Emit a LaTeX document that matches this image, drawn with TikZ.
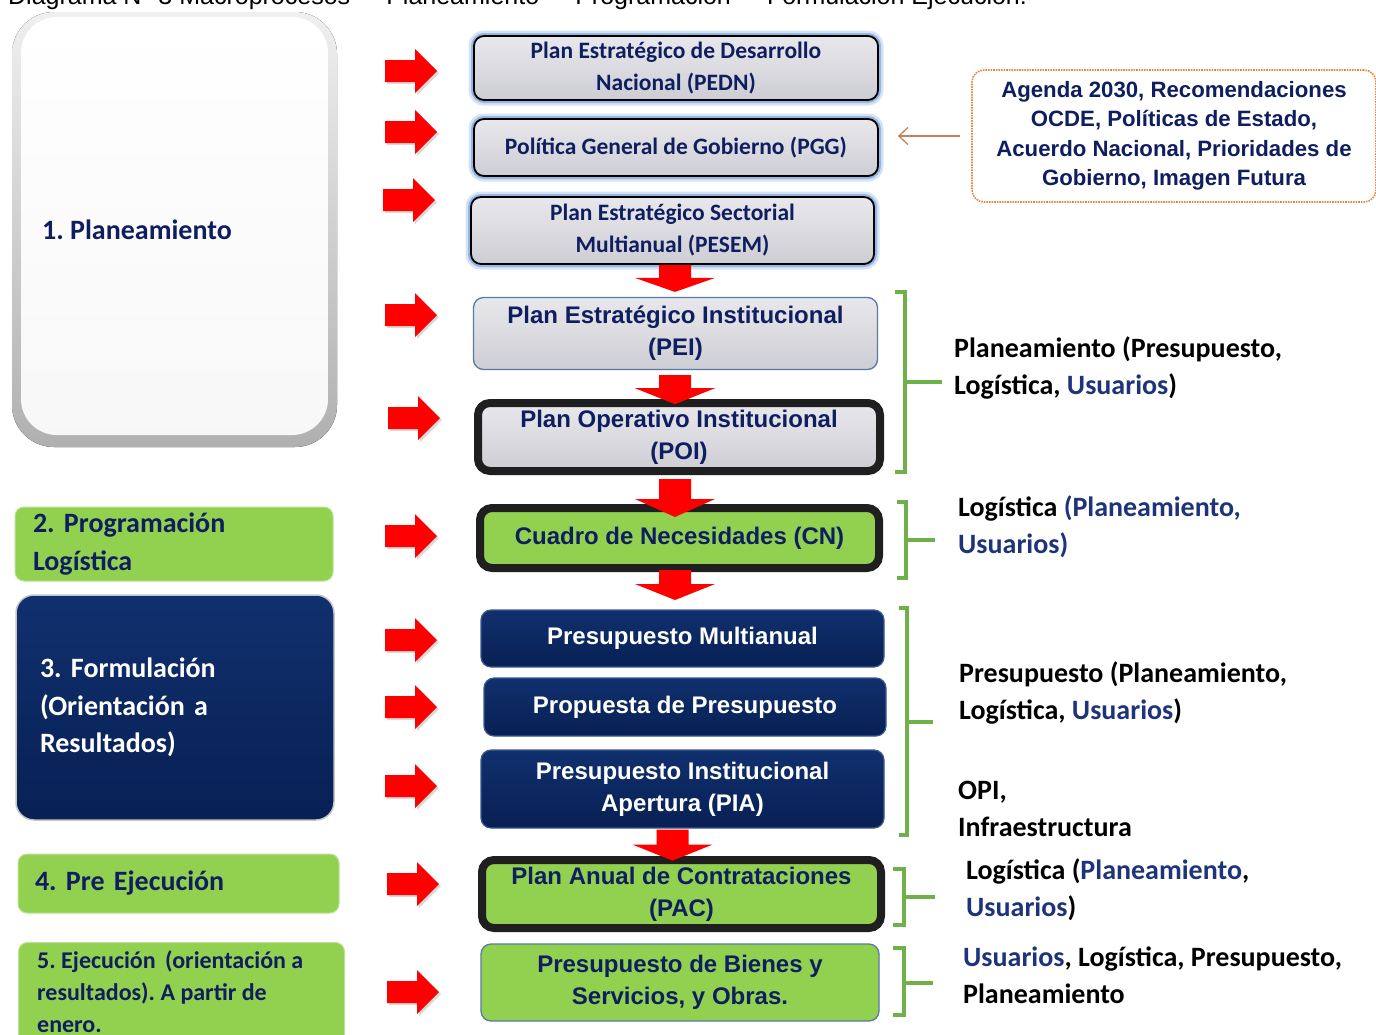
\documentclass[tikz,border=0pt]{standalone}
\usepackage{fontspec}
\setmainfont{Carlito}
\newfontfamily\arialf{Liberation Sans}
\usetikzlibrary{arrows.meta,calc}
\frenchspacing
\definecolor{txtnavy}{RGB}{14,30,95}
\definecolor{rtnavy}{RGB}{30,52,122}
\definecolor{boxnavyT}{RGB}{16,48,110}
\definecolor{boxnavyB}{RGB}{8,32,84}
\definecolor{navyedge}{RGB}{60,90,140}
\definecolor{lgreen}{RGB}{146,208,80}
\definecolor{brg}{RGB}{112,176,72}
\definecolor{arrred}{RGB}{255,0,0}
\definecolor{glowc}{RGB}{120,165,220}
\definecolor{boxgrayT}{RGB}{232,232,236}
\definecolor{boxgrayB}{RGB}{205,205,212}
\definecolor{peib}{RGB}{88,122,165}
\definecolor{agor}{RGB}{228,140,70}
\definecolor{arrbr}{RGB}{200,128,88}
\newcommand\fCal{\fontsize{23.5}{32}\selectfont\bfseries}
\newcommand\fArB{\arialf\fontsize{24}{32}\selectfont\bfseries}
\newcommand\fLab{\fontsize{28}{37.5}\selectfont\bfseries}
\newcommand\fRt{\fontsize{28}{37}\selectfont\bfseries}
\newcommand\fAg{\arialf\fontsize{22.2}{29.5}\selectfont\bfseries}
\tikzset{
  cbox/.style={rounded corners=10pt, inner sep=0pt, align=center},
  glowbox/.style={cbox, draw=black, line width=1.8pt, top color=boxgrayT, bottom color=boxgrayB,
     text=txtnavy, font=\fCal,
     preaction={draw=glowc, line width=11pt, opacity=.3},
     preaction={draw=glowc, line width=6pt, opacity=.7}},
  peibox/.style={cbox, draw=peib, line width=1.3pt, top color=boxgrayT, bottom color=boxgrayB, text=txtnavy, font=\fArB},
  thickgray/.style={cbox, rounded corners=12pt, draw=black!88, line width=8pt, top color=boxgrayT, bottom color=boxgrayB, text=txtnavy, font=\fArB},
  thickgreen/.style={cbox, rounded corners=12pt, draw=black!88, line width=8pt, fill=lgreen, text=txtnavy, font=\fArB},
  navybox/.style={cbox, draw=navyedge, line width=1.2pt, top color=boxnavyT, bottom color=boxnavyB, text=white, font=\fArB},
  greenbox/.style={cbox, draw=peib, line width=1.3pt, fill=lgreen, text=txtnavy, font=\fArB},
  lgbox/.style={rounded corners=9pt, inner sep=0pt, fill=lgreen, draw=lgreen!60!white, line width=1pt, align=left, text=txtnavy, font=\fLab},
  lnbox/.style={rounded corners=18pt, inner sep=0pt, top color=boxnavyT, bottom color=boxnavyB, draw=gray!45, line width=1.5pt, align=left, text=white, font=\fLab},
  agbox/.style={rounded corners=12pt, inner sep=0pt, draw=agor, densely dotted, line width=1.6pt, fill=white, align=center, text=txtnavy, font=\fAg},
  rtext/.style={anchor=west, inner sep=0pt, align=left, font=\fRt, text=black},
  bracket/.style={draw=brg, line width=3.5pt},
  thinarr/.style={draw=arrbr, line width=1.3pt, -{Straight Barb[length=9pt,width=17pt]}},
  pics/rarrow/.style={code={
     \fill[gray!30] (2,-9) -- (32,-9) -- (32,-20) -- (54,2) -- (32,24) -- (32,13) -- (2,13) -- cycle;
     \fill[arrred] (0,-11) -- (30,-11) -- (30,-22) -- (52,0) -- (30,22) -- (30,11) -- (0,11) -- cycle;}},
  pics/darrow/.style 2 args={code={
     \fill[arrred] (-16,0) -- (16,0) -- (16,#1) -- (40,#1) -- (0,#2) -- (-40,#1) -- (-16,#1) -- cycle;}}
}
\begin{document}
\begin{tikzpicture}[x=1pt,y=-1pt]
\useasboundingbox (0,0) rectangle (1376,1034);
\clip (0,0) rectangle (1376,1034);
\fill[white] (0,0) rectangle (1376,1034);

% cut-off caption
\node[anchor=base west, inner sep=0pt, font=\arialf\fontsize{25}{30}\selectfont] (hdr) at (8,4)
  {Diagrama N° 3 Macroprocesos \,–\, Planeamiento \,–\, Programación \,–\, Formulación Ejecución.};

% ---- left column
\fill[top color=gray!12, bottom color=gray!62, rounded corners=42pt] (12,12) rectangle (337,447);
\node[top color=white, bottom color=gray!6, rounded corners=36pt, minimum width=307pt, minimum height=418pt, inner sep=0pt] (L1) at (174.5,226) {};
\node[anchor=west, inner sep=0pt, font=\fLab, text=txtnavy] (L1t) at (42,230) {1. Planeamiento};

\node[lgbox, minimum width=318pt, minimum height=74pt, text width=282pt] (L2) at (174,544) {2. Programación\\Logística};
\node[lnbox, minimum width=318pt, minimum height=225pt, text width=270pt] (L3) at (175,707.5) {3. Formulación\\(Orientación a\\Resultados)};
\node[lgbox, minimum width=321pt, minimum height=59pt, text width=287pt] (L4) at (178.5,883.5) {4. Pre Ejecución};
\node[lgbox, minimum width=326pt, minimum height=110pt, anchor=north west] (L5) at (18,942) {};
\node[anchor=west, inner sep=0pt, align=left, text=txtnavy, font=\fontsize{24}{32}\selectfont\bfseries] (L5t) at (37,992)
  {5. Ejecución \,(orientación a\\resultados). A partir de\\enero.};

% ---- red right arrows
\foreach \xa/\ya in {385/71,385/132,383/200,385/315,388/418,385/536,385/640,385/707,385/786,387/884,387/992}
  \pic at (\xa,\ya) {rarrow};

% ---- central column
\node[glowbox, minimum width=404pt, minimum height=64pt] (PEDN) at (676,68) {Plan Estratégico de Desarrollo\\Nacional (PEDN)};
\node[glowbox, minimum width=404pt, minimum height=57pt] (PGG) at (676,147.5) {Política General de Gobierno (PGG)};
\node[glowbox, minimum width=403pt, minimum height=67pt] (PESEM) at (672.5,230.5) {Plan Estratégico Sectorial\\Multianual (PESEM)};
\node[peibox, minimum width=404pt, minimum height=72pt] (PEI) at (675.5,333.5) {Plan Estratégico Institucional\\(PEI)};
\node[thickgray, minimum width=402pt, minimum height=68pt] (POI) at (679,437) {Plan Operativo Institucional\\(POI)};
\node[thickgreen, minimum width=399pt, minimum height=60pt] (CN) at (679.5,538) {Cuadro de Necesidades (CN)};
\node[navybox, minimum width=403pt, minimum height=57pt] (PM) at (682.5,638.5) {Presupuesto Multianual};
\node[navybox, minimum width=402pt, minimum height=58pt] (PP) at (685,707) {Propuesta de Presupuesto};
\node[navybox, minimum width=403pt, minimum height=78pt] (PIA) at (682.5,789) {Presupuesto Institucional\\Apertura (PIA)};
\node[thickgreen, minimum width=399pt, minimum height=68pt] (PAC) at (681.5,894) {Plan Anual de Contrataciones\\(PAC)};
\node[greenbox, minimum width=398pt, minimum height=77pt] (PBS) at (680,982.5) {Presupuesto de Bienes y\\Servicios, y Obras.};

% ---- red down arrows
\pic at ($(PESEM.south)+(2.5,0)$) {darrow={13}{27}};
\pic at ($(PEI.south)+(-0.5,5)$) {darrow={13}{29}};
\pic at ($(POI.south)+(-4,4)$) {darrow={20}{38}};
\pic at ($(CN.south)+(-4.5,-2)$) {darrow={14}{30}};
\pic at ($(PIA.south)+(-10,1)$) {darrow={15}{31}};

% ---- agenda box and arrow
\node[agbox, minimum width=404pt, minimum height=132pt] (AG) at (1174,136)
  {Agenda 2030, Recomendaciones\\OCDE, Políticas de Estado,\\Acuerdo Nacional, Prioridades de\\Gobierno, Imagen Futura};
\draw[thinarr, shorten <=11pt, shorten >=19pt] (AG.west) -- (AG.west -| PGG.east);

% ---- brackets
\draw[bracket] (895,292) -- (905,292) -- (905,472) -- (895,472);
\draw[bracket] (905,382) -- (942,382);
\draw[bracket] (897,502) -- (906,502) -- (906,578) -- (897,578);
\draw[bracket] (906,540) -- (935,540);
\draw[bracket] (899,608) -- (907,608) -- (907,835) -- (899,835);
\draw[bracket] (907,722) -- (933,722);
\draw[bracket] (893,869) -- (904,869) -- (904,925) -- (893,925);
\draw[bracket] (904,897) -- (935,897);
\draw[bracket] (893,948) -- (904,948) -- (904,1015) -- (893,1015);
\draw[bracket] (904,983) -- (933,983);

% ---- right texts
\node[rtext] (R1) at (954,367.5) {Planeamiento (Presupuesto,\\Logística, {\color{rtnavy}Usuarios})};
\node[rtext] (R2) at (958,526.5) {Logística {\color{rtnavy}(Planeamiento,}\\{\color{rtnavy}Usuarios)}};
\node[rtext] (R3) at (959,692.5) {Presupuesto (Planeamiento,\\Logística, {\color{rtnavy}Usuarios})};
\node[rtext] (R3b) at (958,808.5) {OPI,\\Infraestructura};
\node[rtext] (R4) at (966,889.5) {Logística ({\color{rtnavy}Planeamiento},\\{\color{rtnavy}Usuarios})};
\node[rtext] (R5) at (963,975.5) {{\color{rtnavy}Usuarios}, Logística, Presupuesto,\\Planeamiento};
\end{tikzpicture}
\end{document}
